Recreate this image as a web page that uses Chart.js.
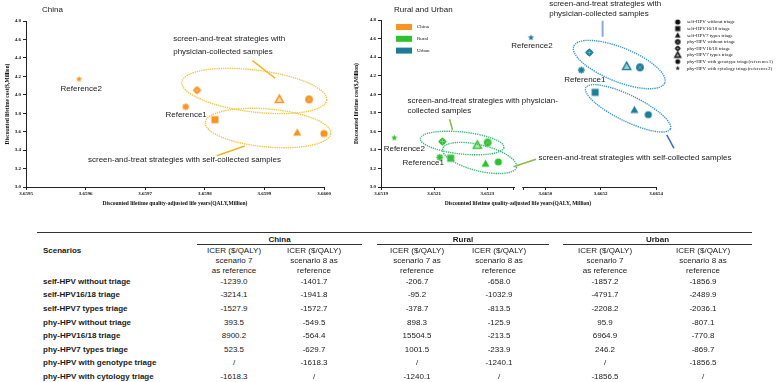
<!DOCTYPE html>
<html>
<head>
<meta charset="utf-8">
<script src="https://cdn.jsdelivr.net/npm/chart.js@4.4.0/dist/chart.umd.min.js"></script>
<style>
  body { margin: 0; background: #fff; width: 778px; height: 382px; overflow: hidden; position: relative;
         font-family: "Liberation Sans", Arial, sans-serif; }
  canvas { position: absolute; top: 0; }
  #c1 { left: 0; }
  #c2 { left: 345px; }
  .t { position: absolute; white-space: nowrap; font-size: 8px; color: #1a1a1a; line-height: 1; }
  .c { transform: translate(-50%, -50%); }
  .l { transform: translate(0, -50%); }
  .b { font-weight: bold; }
  .ax { font-family: "Liberation Serif", serif; font-weight: bold; font-size: 5.5px; color: #111; }
  .rule { position: absolute; height: 0; border-top: 1px solid #333; }
</style>
</head>
<body>
<canvas id="c1" width="345" height="210"></canvas>
<canvas id="c2" width="433" height="210"></canvas>
<div class="t l" style="left:42px;top:10px">China</div>
<div class="t l" style="left:394px;top:10px">Rural and Urban</div>
<div class="t c ax" style="left:518px;top:204px">Discounted lifetime quality-adjusted life years(QALY, Million)</div>
<div id="tbl"></div>
<script>
    // ---- chart data ----
    const symbolNames = ['self-HPV without triage', 'self-HPV16/18 triage', 'self-HPV7 types triage',
        'phy-HPV without triage', 'phy-HPV16/18 triage', 'phy-HPV7 types triage',
        'phy-HPV with genotype triage(reference1)', 'phy-HPV with cytology triage(reference2)'];

    const chinaQaly = [3.66000, 3.659817, 3.659955, 3.659975, 3.659787, 3.659925, 3.659768, 3.659589];
    const chinaCost = [3.58, 3.73, 3.59, 3.95, 4.05, 3.95, 3.87, 4.17];
    const ruralQaly = [3.652341, 3.652162, 3.652293, 3.652301, 3.652131, 3.652262, 3.652121, 3.65195];
    const ruralCost = [3.27, 3.31, 3.25, 3.48, 3.49, 3.45, 3.32, 3.53];
    const urbanQaly = [3.665372, 3.665180, 3.665322, 3.665342, 3.665159, 3.665294, 3.665130, 3.664948];
    const urbanCost = [3.78, 4.02, 3.83, 4.29, 4.45, 4.30, 4.26, 4.61];

    const yTicks = [3.0, 3.2, 3.4, 3.6, 3.8, 4.0, 4.2, 4.4, 4.6, 4.8];
    const chinaTicks = [3.6595, 3.6596, 3.6597, 3.6598, 3.6599, 3.6600];
    const ruralTicks = [3.6519, 3.6521, 3.6523];
    const urbanTicks = [3.6650, 3.6652, 3.6654];
    const axisBreak = [3.6524, 3.66492];

    const regionNames = ['China', 'Rural', 'Urban'];
    const regionColors = ['#F7931E', '#2EC12E', '#1B7D98'];

    // ---- table data ----
    const scenarios = symbolNames.slice(0, 6).concat(['phy-HPV with genotype triage', 'phy-HPV with cytology triage']);
    const chinaS7 = ['-1239.0', '-3214.1', '-1527.9', '393.5', '8900.2', '523.5', '/', '-1618.3'];
    const chinaS8 = ['-1401.7', '-1941.8', '-1572.7', '-549.5', '-564.4', '-629.7', '-1618.3', '/'];
    const ruralS7 = ['-206.7', '-95.2', '-378.7', '898.3', '15504.5', '1001.5', '/', '-1240.1'];
    const ruralS8 = ['-658.0', '-1032.9', '-813.5', '-125.9', '-213.5', '-233.9', '-1240.1', '/'];
    const urbanS7 = ['-1857.2', '-4791.7', '-2208.2', '95.9', '6964.9', '246.2', '/', '-1856.5'];
    const urbanS8 = ['-1856.9', '-2489.9', '-2036.1', '-807.1', '-770.8', '-869.7', '-1856.5', '/'];
    const colHeads = [
        ['ICER ($/QALY)', 'scenario 7', 'as reference'],
        ['ICER ($/QALY)', 'scenario 8 as', 'reference'],
        ['ICER ($/QALY)', 'scenario 7 as', 'reference'],
        ['ICER ($/QALY)', 'scenario 8 as', 'reference'],
        ['ICER ($/QALY)', 'scenario 7', 'as reference'],
        ['ICER ($/QALY)', 'scenario 8 as', 'reference']
    ];

    // ---- marker symbols ----
    const symRadius = [3.6, 3.9, 4.2, 3.9, 4.3, 4.3, 3.5, 3.3];

    function makeSymbol(kind, color, r) {
        const s = Math.ceil(2 * r + 4);
        const c = document.createElement('canvas');
        c.width = s; c.height = s;
        const g = c.getContext('2d');
        const m = s / 2;
        g.fillStyle = color; g.strokeStyle = color;
        const tri = () => {
            g.beginPath();
            g.moveTo(m, m - r);
            g.lineTo(m + r * 0.95, m + r * 0.72);
            g.lineTo(m - r * 0.95, m + r * 0.72);
            g.closePath();
        };
        if (kind === 0) {
            g.beginPath(); g.arc(m, m, r, 0, 2 * Math.PI); g.fill();
        } else if (kind === 1) {
            g.fillRect(m - r * 0.9, m - r * 0.9, r * 1.8, r * 1.8);
        } else if (kind === 2) {
            tri(); g.fill();
        } else if (kind === 3) {
            g.beginPath(); g.arc(m, m, r, 0, 2 * Math.PI); g.fill();
            g.strokeStyle = 'rgba(255,255,255,0.45)'; g.lineWidth = 0.6;
            g.beginPath();
            g.moveTo(m - r * 0.6, m - r * 0.6); g.lineTo(m + r * 0.6, m + r * 0.6);
            g.moveTo(m + r * 0.6, m - r * 0.6); g.lineTo(m - r * 0.6, m + r * 0.6);
            g.stroke();
        } else if (kind === 4) {
            g.beginPath();
            g.moveTo(m, m - r); g.lineTo(m + r, m); g.lineTo(m, m + r); g.lineTo(m - r, m);
            g.closePath(); g.fill();
            g.beginPath(); g.arc(m, m, r * 0.72, 0, 2 * Math.PI); g.fill();
            g.strokeStyle = 'rgba(255,255,255,0.5)'; g.lineWidth = 0.6;
            g.beginPath();
            g.moveTo(m - r * 0.55, m); g.lineTo(m + r * 0.55, m);
            g.moveTo(m, m - r * 0.55); g.lineTo(m, m + r * 0.55);
            g.stroke();
        } else if (kind === 5) {
            tri();
            g.globalAlpha = 0.4; g.fill(); g.globalAlpha = 1;
            g.lineWidth = 1.4; g.stroke();
        } else if (kind === 6) {
            g.beginPath(); g.arc(m, m, r * 0.62, 0, 2 * Math.PI); g.fill();
            g.lineWidth = 1.3;
            g.beginPath();
            for (let k = 0; k < 8; k++) {
                const a = k * Math.PI / 4;
                g.moveTo(m, m); g.lineTo(m + r * Math.cos(a), m + r * Math.sin(a));
            }
            g.stroke();
        } else {
            g.beginPath();
            for (let k = 0; k < 10; k++) {
                const a = -Math.PI / 2 + k * Math.PI / 5;
                const rr = k % 2 === 0 ? r : r * 0.45;
                g.lineTo(m + rr * Math.cos(a), m + rr * Math.sin(a));
            }
            g.closePath(); g.fill();
        }
        return c;
    }

    const regionSymbols = regionColors.map(col => symbolNames.map((n, i) => makeSymbol(i, col, symRadius[i])));
    const blackSymbols = symbolNames.map((n, i) => makeSymbol(i, '#111', symRadius[i] * 0.72));

    // ---- annotation plugin: ellipses, leader lines, labels ----
    const marks = {
        id: 'marks',
        afterDatasetsDraw(chart, args, opts) {
            const ctx = chart.ctx;
            const ys = chart.scales.y;
            ctx.save();
            (opts.ellipses || []).forEach(e => {
                const xs = chart.scales[e.axis];
                ctx.save();
                ctx.translate(xs.getPixelForValue(e.x), ys.getPixelForValue(e.y));
                ctx.rotate(e.angle * Math.PI / 180);
                ctx.beginPath();
                ctx.ellipse(0, 0, e.rx, e.ry, 0, 0, 2 * Math.PI);
                ctx.setLineDash([1.3, 0.9]);
                ctx.lineWidth = 1.4;
                ctx.strokeStyle = e.color;
                ctx.stroke();
                ctx.restore();
            });
            (opts.lines || []).forEach(l => {
                const xs = chart.scales[l.axis];
                ctx.beginPath();
                ctx.moveTo(xs.getPixelForValue(l.x1), ys.getPixelForValue(l.y1));
                ctx.lineTo(xs.getPixelForValue(l.x2), ys.getPixelForValue(l.y2));
                ctx.setLineDash([]);
                ctx.lineWidth = l.width || 1.5;
                ctx.strokeStyle = l.color;
                ctx.stroke();
            });
            ctx.font = '8px "Liberation Sans", Arial, sans-serif';
            ctx.fillStyle = '#1a1a1a';
            ctx.textAlign = 'left';
            ctx.textBaseline = 'middle';
            (opts.texts || []).forEach(t => {
                const xs = chart.scales[t.axis];
                const px = xs.getPixelForValue(t.x);
                const py = ys.getPixelForValue(t.y);
                t.lines.forEach((s, k) => ctx.fillText(s, px, py + k * (t.gap || 12)));
            });
            ctx.restore();
        }
    };

    // right chart: axis break + legends
    const keys = {
        id: 'keys',
        afterDraw(chart) {
            const ctx = chart.ctx;
            const ys = chart.scales.y;
            const a = chart.scales.xr.getPixelForValue(axisBreak[0]) + 1;
            const b = chart.scales.xu.getPixelForValue(axisBreak[1]) - 1;
            ctx.save();
            ctx.fillStyle = '#fff';
            ctx.fillRect(a, ys.bottom - 2, b - a, 4);

            ctx.font = '5px "Liberation Serif", serif';
            ctx.textBaseline = 'middle';
            ctx.textAlign = 'left';
            regionNames.forEach((n, i) => {
                ctx.fillStyle = regionColors[i];
                ctx.fillRect(51, 24 + i * 11.8, 16, 6);
                ctx.fillStyle = '#111';
                ctx.fillText(n, 72, 27 + i * 11.8);
            });
            symbolNames.forEach((n, i) => {
                const img = blackSymbols[i];
                const yy = 22 + i * 6.6;
                ctx.drawImage(img, 332.7 - img.width / 2, yy - img.height / 2);
                ctx.fillStyle = '#111';
                ctx.fillText(n, 342, yy);
            });
            ctx.restore();
        }
    };

    const tickFont = { family: '"Liberation Serif", serif', size: 5, weight: 'bold' };
    const titleFont = { family: '"Liberation Serif", serif', size: 5.5, weight: 'bold' };

    function xScale(ticks, min, max, extra) {
        return Object.assign({
            type: 'linear',
            position: 'bottom',
            min: min,
            max: max,
            afterBuildTicks: s => { s.ticks = ticks.map(v => ({ value: v })); },
            ticks: {
                font: tickFont, color: '#111', padding: 1, maxRotation: 0, autoSkip: false,
                callback: v => ticks.indexOf(v) >= 0 && !axisBreak.includes(v) ? v.toFixed(4) : ''
            },
            grid: { display: true, drawOnChartArea: false, drawTicks: true, tickLength: 3, color: '#222' },
            border: { display: true, color: '#222', width: 1 },
            afterFit: s => { s.height = 23; }
        }, extra);
    }

    function yScale(width, pad) {
        return {
            type: 'linear',
            min: 3.0,
            max: 4.8,
            afterBuildTicks: s => { s.ticks = yTicks.map(v => ({ value: v })); },
            ticks: { font: tickFont, color: '#111', padding: 2, callback: v => v.toFixed(1) },
            grid: { display: true, drawOnChartArea: false, drawTicks: true, tickLength: 3, color: '#222' },
            border: { display: true, color: '#222', width: 1 },
            title: { display: true, text: 'Discounted lifetime cost($,Million)', font: titleFont, color: '#111',
                     padding: { top: pad, bottom: 0 } },
            afterFit: s => { s.width = width; }
        };
    }

    function pts(xs, ys) {
        return xs.map((v, i) => ({ x: v, y: ys[i] }));
    }

    const common = {
        responsive: false,
        animation: false,
        devicePixelRatio: 1,
        events: []
    };

    new Chart(document.getElementById('c1'), {
        type: 'scatter',
        data: {
            datasets: [{ label: 'China', data: pts(chinaQaly, chinaCost), pointStyle: regionSymbols[0], clip: false }]
        },
        options: Object.assign({}, common, {
            layout: { padding: { top: 21, right: 21, left: 0, bottom: 0 } },
            plugins: {
                legend: { display: false },
                tooltip: { enabled: false },
                marks: {
                    ellipses: [
                        { axis: 'x', x: 3.659883, y: 4.041, rx: 73, ry: 21, angle: 7, color: '#F5C342' },
                        { axis: 'x', x: 3.659906, y: 3.640, rx: 63, ry: 19, angle: 5, color: '#F5C342' }
                    ],
                    lines: [
                        { axis: 'x', x1: 3.65988, y1: 4.37, x2: 3.659918, y2: 4.179, color: '#F2B61B' },
                        { axis: 'x', x1: 3.659867, y1: 3.445, x2: 3.65982, y2: 3.339, color: '#F2B61B' }
                    ],
                    texts: [
                        { axis: 'x', x: 3.659747, y: 4.605, lines: ['screen-and-treat strategies with', 'physician-collected samples'], gap: 13 },
                        { axis: 'x', x: 3.659604, y: 3.293, lines: ['screen-and-treat strategies with self-collected samples'] },
                        { axis: 'x', x: 3.659558, y: 4.063, lines: ['Reference2'] },
                        { axis: 'x', x: 3.659734, y: 3.781, lines: ['Reference1'] }
                    ]
                }
            },
            scales: {
                x: xScale(chinaTicks, 3.6595, 3.6600, {
                    title: { display: true, text: 'Discounted lifetime quality-adjusted life years(QALY,Million)',
                             font: titleFont, color: '#111', padding: { top: 0, bottom: 3 } }
                }),
                y: yScale(26, 4)
            }
        }),
        plugins: [marks]
    });

    new Chart(document.getElementById('c2'), {
        type: 'scatter',
        data: {
            datasets: [
                { label: 'Rural', data: pts(ruralQaly, ruralCost), xAxisID: 'xr', pointStyle: regionSymbols[1], clip: false },
                { label: 'Urban', data: pts(urbanQaly, urbanCost), xAxisID: 'xu', pointStyle: regionSymbols[2], clip: false }
            ]
        },
        options: Object.assign({}, common, {
            layout: { padding: { top: 20, right: 122, left: 0, bottom: 0 } },
            plugins: {
                legend: { display: false },
                tooltip: { enabled: false },
                marks: {
                    ellipses: [
                        { axis: 'xr', x: 3.652205, y: 3.474, rx: 42, ry: 11, angle: 6, color: '#3BB97A' },
                        { axis: 'xr', x: 3.652271, y: 3.313, rx: 38, ry: 13, angle: 14, color: '#3BB97A' },
                        { axis: 'xu', x: 3.665267, y: 4.320, rx: 49, ry: 17, angle: 22, color: '#3C96D6' },
                        { axis: 'xu', x: 3.665299, y: 3.848, rx: 47, ry: 13, angle: 26, color: '#3C96D6' }
                    ],
                    lines: [
                        { axis: 'xr', x1: 3.652158, y1: 3.730, x2: 3.652169, y2: 3.614, color: '#8DB84A' },
                        { axis: 'xr', x1: 3.652398, y1: 3.219, x2: 3.652483, y2: 3.299, color: '#8DB84A' },
                        { axis: 'xu', x1: 3.665207, y1: 4.792, x2: 3.665207, y2: 4.62, color: '#8AAAD8', width: 2 },
                        { axis: 'xu', x1: 3.665439, y1: 3.561, x2: 3.665465, y2: 3.417, color: '#3A6CC8' }
                    ],
                    texts: [
                        { axis: 'xu', x: 3.665014, y: 4.972, lines: ['screen-and-treat strategies with', 'physician-collected samples'], gap: 9.5 },
                        { axis: 'xr', x: 3.652, y: 3.930, lines: ['screen-and-treat strategies with physician-', 'collected samples'], gap: 10.3 },
                        { axis: 'xu', x: 3.664975, y: 3.318, lines: ['screen-and-treat strategies with self-collected samples'] },
                        { axis: 'xr', x: 3.65191, y: 3.417, lines: ['Reference2'] },
                        { axis: 'xr', x: 3.651981, y: 3.259, lines: ['Reference1'] },
                        { axis: 'xu', x: 3.664877, y: 4.523, lines: ['Reference2'] },
                        { axis: 'xu', x: 3.665068, y: 4.153, lines: ['Reference1'] }
                    ]
                }
            },
            scales: {
                xr: xScale(ruralTicks.concat([axisBreak[0]]), 3.6519, 3.652417, { stack: 'qaly', stackWeight: 1 }),
                xu: xScale([axisBreak[1]].concat(urbanTicks), 3.664903, 3.6654, { stack: 'qaly', stackWeight: 1 }),
                y: yScale(36, 8)
            }
        }),
        plugins: [marks, keys]
    });

    // ---- table ----
    const tbl = document.getElementById('tbl');
    function put(text, x, y, cls) {
        const d = document.createElement('div');
        d.className = 't ' + cls;
        d.style.left = x + 'px';
        d.style.top = y + 'px';
        d.textContent = text;
        tbl.appendChild(d);
    }
    function rule(x1, x2, y) {
        const d = document.createElement('div');
        d.className = 'rule';
        d.style.left = x1 + 'px';
        d.style.width = (x2 - x1) + 'px';
        d.style.top = y + 'px';
        tbl.appendChild(d);
    }

    const colCenters = [234, 314, 417, 499, 605, 703];
    const groupSpans = [[197, 362], [377, 549], [563, 752]];
    const tableCols = [chinaS7, chinaS8, ruralS7, ruralS8, urbanS7, urbanS8];

    rule(37, 752, 232);
    groupSpans.forEach((g, i) => {
        put(regionNames[i], (g[0] + g[1]) / 2, 239.5, 'c b');
        rule(g[0], g[1], 244);
    });
    put('Scenarios', 43, 250.5, 'l b');
    colHeads.forEach((h, c) => {
        h.forEach((s, k) => put(s, colCenters[c], 251 + k * 9.9, 'c'));
    });
    scenarios.forEach((s, r) => {
        const y = 281.7 + r * 13.6;
        put(s, 43, y, 'l b');
        tableCols.forEach((col, c) => put(col[r], colCenters[c], y, 'c'));
    });
</script>
</body>
</html>
